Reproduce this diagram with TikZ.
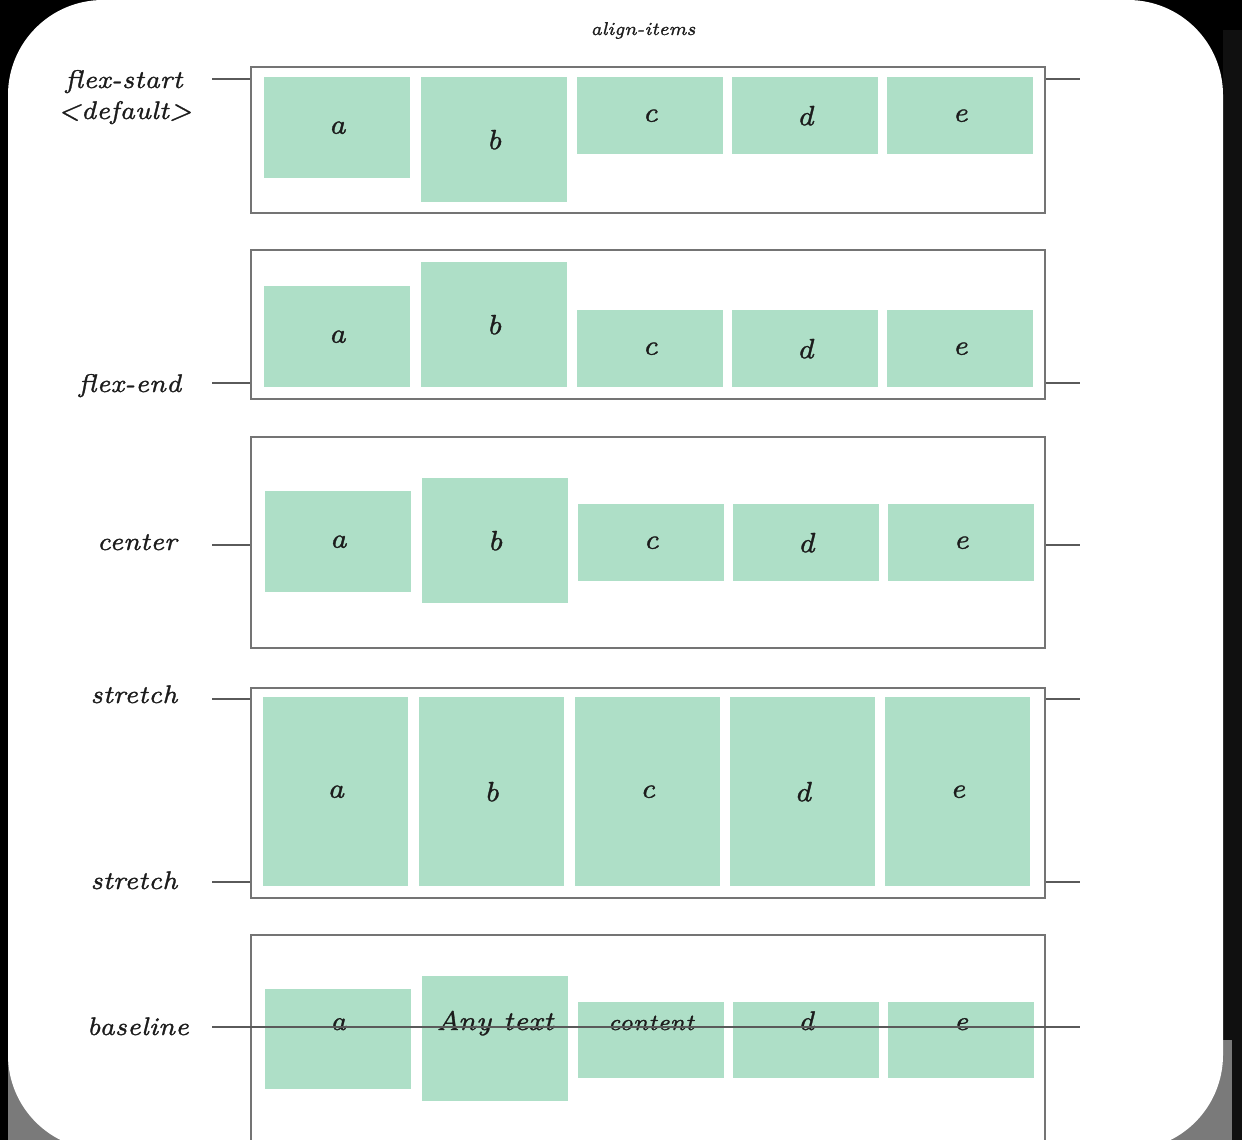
\documentclass[tikz,border=0pt]{standalone}
\usepackage{fontspec}
\setmainfont{Latin Modern Roman}
\newfontfamily\smallit[Ligatures=Common, FakeBold=1.1]{lmroman7-italic.otf}
\definecolor{mint}{HTML}{AEDFC7}
\definecolor{boxgray}{HTML}{747474}
\definecolor{linegray}{HTML}{5A5A5A}
\definecolor{ink}{HTML}{1C1C1C}
\definecolor{cornergray}{HTML}{7A7A7A}
\definecolor{strip}{HTML}{101010}
\tikzset{
  item/.style={fill=mint, draw=none, minimum width=146pt, inner sep=0pt, anchor=north west,
    text=ink, font=\smallit\fontsize{28}{32}\selectfont\bfseries},
  flexbox/.style={draw=boxgray, line width=1.8pt, fill=white, inner sep=0pt, anchor=north west,
    minimum width=794pt},
  conn/.style={draw=linegray, line width=1.8pt},
  lbl/.style={anchor=base, text=ink, font=\smallit\fontsize{25.5}{30}\selectfont\bfseries},
  itxt/.style={anchor=base, text=ink, inner sep=0pt},
}
\begin{document}
\begin{tikzpicture}[x=1pt,y=-1pt]
\useasboundingbox (0,0) rectangle (1242,1140);
\clip (0,0) rectangle (1242,1140);
% background and card
\fill[black] (0,0) rectangle (1242,1140);
\fill[strip] (1223,30) rectangle (1242,1140);
\fill[cornergray] (8,1040) rectangle (1232,1140);
\fill[white, rounded corners=95pt] (8,0) rectangle (1223,1150);

% title
\node[itxt, font=\smallit\fontsize{18.5}{22}\selectfont\bfseries] (title) at (643,35) {align-items};

% ---------- row 1: flex-start ----------
\node[flexbox, minimum height=146pt] (box1) at (250,66) {};
\node[item, minimum height=101pt] (r1a) at (264,77) {a};
\node[item, minimum height=125pt] (r1b) at (421,77) {b};
\node[item, minimum height=77pt] (r1c) at (577,77) {c};
\node[item, minimum height=77pt] (r1d) at (732,77) {d};
\node[item, minimum height=77pt] (r1e) at (887,77) {e};
\node[lbl] (lab1) at (124,88) {ﬂex-start};
\node[lbl] (lab1b) at (125,119) {\textless default\textgreater};
\coordinate (l1) at (212,79);
\coordinate (r1) at (1080,79);
\draw[conn] (l1) -- (l1 -| box1.west);
\draw[conn] (r1 -| box1.east) -- (r1);

% ---------- row 2: flex-end ----------
\node[flexbox, minimum height=149pt] (box2) at (250,249) {};
\node[item, minimum height=101pt] (r2a) at (264,286) {a};
\node[item, minimum height=125pt] (r2b) at (421,262) {b};
\node[item, minimum height=77pt] (r2c) at (577,310) {c};
\node[item, minimum height=77pt] (r2d) at (732,310) {d};
\node[item, minimum height=77pt] (r2e) at (887,310) {e};
\node[lbl] (lab2) at (130,392) {ﬂex-end};
\coordinate (l2) at (212,383);
\coordinate (r2) at (1080,383);
\draw[conn] (l2) -- (l2 -| box2.west);
\draw[conn] (r2 -| box2.east) -- (r2);

% ---------- row 3: center ----------
\node[flexbox, minimum height=211pt] (box3) at (250,436) {};
\node[item, minimum height=101pt] (r3a) at (265,491) {a};
\node[item, minimum height=125pt] (r3b) at (422,478) {b};
\node[item, minimum height=77pt] (r3c) at (578,504) {c};
\node[item, minimum height=77pt] (r3d) at (733,504) {d};
\node[item, minimum height=77pt] (r3e) at (888,504) {e};
\node[lbl] (lab3) at (137,550) {center};
\coordinate (l3) at (212,545);
\coordinate (r3) at (1080,545);
\draw[conn] (l3) -- (l3 -| box3.west);
\draw[conn] (r3 -| box3.east) -- (r3);

% ---------- row 4: stretch ----------
\node[flexbox, minimum height=210pt] (box4) at (250,687) {};
\node[item, minimum height=189pt, minimum width=145pt] (r4a) at (263,697) {a};
\node[item, minimum height=189pt, minimum width=145pt] (r4b) at (419,697) {b};
\node[item, minimum height=189pt, minimum width=145pt] (r4c) at (575,697) {c};
\node[item, minimum height=189pt, minimum width=145pt] (r4d) at (730,697) {d};
\node[item, minimum height=189pt, minimum width=145pt] (r4e) at (885,697) {e};
\node[lbl] (lab4a) at (134,703) {stretch};
\node[lbl] (lab4b) at (134,889) {stretch};
\coordinate (l4a) at (212,699);
\coordinate (r4a') at (1080,699);
\coordinate (l4b) at (212,882);
\coordinate (r4b') at (1080,882);
\draw[conn] (l4a) -- (l4a -| box4.west);
\draw[conn] (r4a' -| box4.east) -- (r4a');
\draw[conn] (l4b) -- (l4b -| box4.west);
\draw[conn] (r4b' -| box4.east) -- (r4b');

% ---------- row 5: baseline ----------
\node[flexbox, minimum height=260pt] (box5) at (250,934) {};
\node[item, minimum height=100pt] (r5a) at (265,989) {};
\node[item, minimum height=125pt] (r5b) at (422,976) {};
\node[item, minimum height=76pt] (r5c) at (578,1002) {};
\node[item, minimum height=76pt] (r5d) at (733,1002) {};
\node[item, minimum height=76pt] (r5e) at (888,1002) {};
\coordinate (base) at (0,1030);
\node[itxt, font=\smallit\fontsize{27}{30}\selectfont\bfseries] (t5a) at (r5a.center |- base) {a};
\node[itxt, font=\smallit\fontsize{27}{32}\selectfont\bfseries] (t5b) at (r5b.center |- base) {Any text};
\node[itxt, font=\smallit\fontsize{23}{28}\selectfont\bfseries] (t5c) at (r5c.center |- base) {content};
\node[itxt, font=\smallit\fontsize{27}{30}\selectfont\bfseries] (t5d) at (r5d.center |- base) {d};
\node[itxt, font=\smallit\fontsize{27}{30}\selectfont\bfseries] (t5e) at (r5e.center |- base) {e};
\node[lbl] (lab5) at (138,1035) {baseline};
\coordinate (l5) at (212,1027);
\coordinate (r5) at (1080,1027);
\draw[linegray, line width=1.3pt] (l5) -- (r5);
\end{tikzpicture}
\end{document}
